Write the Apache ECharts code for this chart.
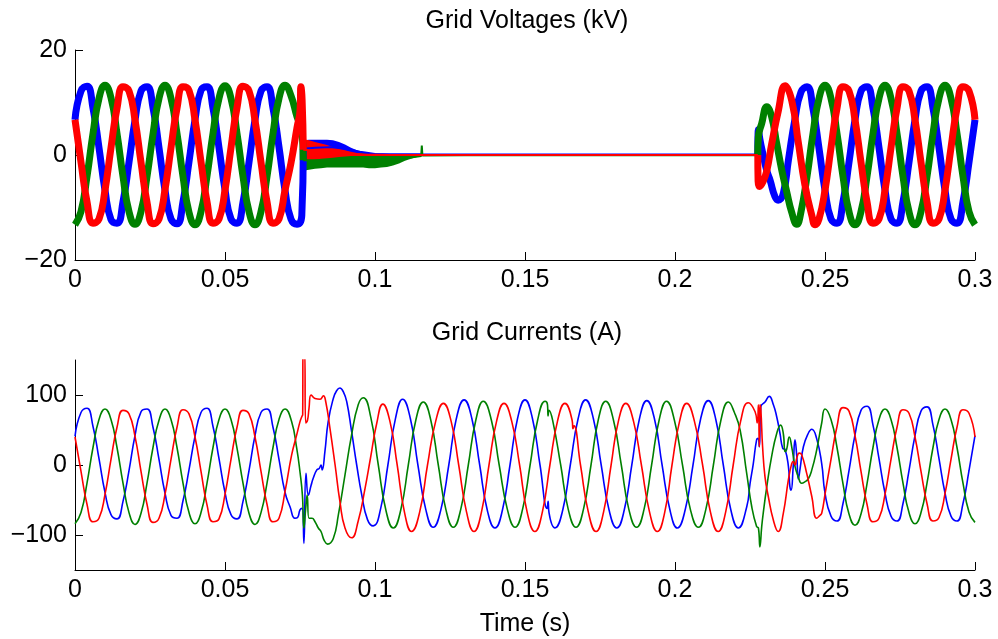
<!DOCTYPE html>
<html>
<head>
<meta charset="utf-8">
<title>Grid Voltages and Currents</title>
<script src="https://cdn.jsdelivr.net/npm/echarts@6/dist/echarts.min.js"></script>
<style>
  html, body { margin: 0; padding: 0; background: #fff; }
  #main { width: 998px; height: 639px; }
</style>
</head>
<body>
<div id="main"></div>
<script>
// sample times (s) for the steady parts before the fault and after recovery
const tPre = [0, 0.002, 0.004, 0.006, 0.008, 0.010, 0.012, 0.014, 0.016, 0.018,
  0.020, 0.022, 0.024, 0.026, 0.028, 0.030, 0.032, 0.034, 0.036, 0.038,
  0.040, 0.042, 0.044, 0.046, 0.048, 0.050, 0.052, 0.054, 0.056, 0.058,
  0.060, 0.062, 0.064, 0.066, 0.068, 0.070];
const tPost = [0.250, 0.252, 0.254, 0.256, 0.258, 0.260, 0.262, 0.264, 0.266, 0.268,
  0.270, 0.272, 0.274, 0.276, 0.278, 0.280, 0.282, 0.284, 0.286, 0.288,
  0.290, 0.292, 0.294, 0.296, 0.298, 0.300];

// ---- grid voltages (kV) ----
const vBluePre = [6.7, 12.2, 13.1, 8.9, 1.4, -6.7, -12.3, -13.0, -8.9, -1.4,
  6.6, 12.2, 13.0, 9.0, 1.4, -6.7, -12.2, -13.1, -8.9, -1.3,
  6.7, 12.3, 13.0, 8.9, 1.4, -6.6, -12.2, -13.0, -9.0, -1.4,
  6.7, 12.2, 13.0, 8.9, 1.5, -6.7];
const vGreenPre = [-13.3, -10.8, -4.1, 4.1, 10.8, 13.3, 10.9, 4.1, -4.1, -10.8,
  -13.2, -10.8, -4.1, 4.0, 10.8, 13.3, 10.8, 4.1, -4.1, -10.9,
  -13.3, -10.8, -4.0, 4.1, 10.8, 13.2, 10.8, 4.1, -4.1, -10.8,
  -13.3, -10.8, -4.1, 4.1, 10.8, 13.3];
const vRedPre = [6.7, -1.4, -8.9, -13.0, -12.2, -6.7, 1.4, 8.9, 13.0, 12.2,
  6.7, -1.4, -9.0, -13.1, -12.2, -6.6, 1.4, 8.9, 13.0, 12.3,
  6.7, -1.3, -8.9, -13.0, -12.2, -6.7, 1.4, 9.0, 13.1, 12.2,
  6.6, -1.4, -8.9, -13.0, -12.2, -6.7];

// collapse at the fault
const vBlueTrip = [[0.072, -12.2], [0.074, -13.2], [0.0756, -11.5], [0.0761, 1.2]];
const vGreenTrip = [[0.072, 11.3], [0.074, 7.3], [0.0756, 4.7], [0.0761, -1.0]];
const vRedTrip = [[0.072, -1.5], [0.074, 5.2], [0.075, 8.4], [0.0753, 13.0], [0.0757, 10.5], [0.0761, 1.0]];

// ripple envelopes during the fault
const tBand = [0.0761, 0.078, 0.080, 0.082, 0.084, 0.086, 0.088, 0.090, 0.092, 0.094,
  0.096, 0.098, 0.100, 0.102, 0.104, 0.106, 0.108, 0.110, 0.112, 0.114, 0.116];
const vBlueHi = [2.8, 2.9, 2.9, 2.9, 2.9, 2.8, 2.5, 2.0, 1.4, 0.9, 0.5, 0.3, 0.3, 0.3, 0.3, 0.3, 0.3, 0.3, 0.3, 0.3, 0.3];
const vBlueLo = [-0.6, -0.3, 0, 0.1, 0.2, 0.2, 0.2, 0.1, 0, 0, 0, 0, 0, 0, 0, 0, 0, 0, 0, 0, 0];
const vGreenHi = [0.9, 0.8, 0.7, 0.6, 0.6, 0.5, 0.5, 0.4, 0.4, 0.3, 0.3, 0.3, 0.3, 0.2, 0.2, 0.1, 0.1, 0.1, 0.1, 0.1, 0.1];
const vGreenLo = [-3.0, -2.8, -2.6, -2.5, -2.4, -2.4, -2.4, -2.4, -2.4, -2.4, -2.4, -2.5, -2.5, -2.4, -2.3, -2.0, -1.6, -1.1, -0.7, -0.4, -0.1];
const vRedHi = [3.0, 2.8, 2.5, 2.2, 1.9, 1.5, 1.2, 0.9, 0.6, 0.4, 0.3, 0.2, 0.2, 0.2, 0.2, 0.2, 0.2, 0.2, 0.2, 0.2, 0.2];
const vRedLo = [-1.3, -1.1, -0.9, -0.7, -0.6, -0.5, -0.4, -0.3, -0.2, -0.2, -0.2, -0.2, -0.2, -0.2, -0.2, -0.2, -0.2, -0.2, -0.2, -0.2, -0.2];

// near-zero voltage while the grid is lost
const tThin = [0.0761, 0.080, 0.085, 0.090, 0.095, 0.100, 0.105, 0.110, 0.1154, 0.1156,
  0.1158, 0.130, 0.150, 0.170, 0.190, 0.210, 0.2276];
const vBlueThin = [1.2, 1.4, 1.5, 1.2, 0.6, 0.2, 0.1, 0.1, 0.1, 0.1, 0.1, 0.1, 0.1, 0.1, 0.1, 0.1, 0.1];
const vGreenThin = [-1.0, -1.0, -1.0, -1.0, -1.0, -1.1, -1.1, -0.6, -0.2, 1.8, -0.1, -0.05, -0.05, -0.05, -0.05, -0.05, -0.05];
const vRedThin = [1.0, 0.8, 0.6, 0.2, 0.1, 0.05, 0, 0, 0, 0, 0, 0, 0, 0, 0, 0, 0];

// recovery
const vBlueRecov = [[0.2276, 0.1], [0.2278, 4.8], [0.2283, 3.0], [0.2290, 1.0], [0.2306, -3.0], [0.2317, -4.8],
  [0.2333, -7.9], [0.2344, -8.6], [0.2361, -7.3], [0.2378, -1.0], [0.2400, 6.9], [0.2420, 12.0],
  [0.2440, 13.0], [0.2460, 8.8], [0.2480, 1.3]];
const vGreenRecov = [[0.2276, 0], [0.2278, 3.5], [0.2289, 6.0], [0.2306, 9.2], [0.2322, 7.3], [0.2339, 2.2],
  [0.2356, -2.9], [0.2372, -6.9], [0.2389, -10.9], [0.2406, -13.2], [0.2420, -10.8], [0.2440, -4.1],
  [0.2460, 4.1], [0.2480, 10.8]];
const vRedRecov = [[0.2276, 0], [0.2277, -5.0], [0.2282, -6.0], [0.2294, -5.0], [0.2306, -3.0], [0.2322, 2.0],
  [0.2344, 8.3], [0.2367, 13.2], [0.2389, 10.4], [0.2411, 2.4], [0.2433, -5.7], [0.2456, -11.5],
  [0.2467, -13.3], [0.2480, -12.2]];

const vBluePost = [-6.7, -12.2, -13.0, -8.9, -1.4, 6.7, 12.2, 13.0, 8.9, 1.4, -6.7, -12.2, -13.0,
  -8.9, -1.4, 6.7, 12.2, 13.0, 8.9, 1.4, -6.7, -12.2, -13.0, -8.9, -1.4, 6.7];
const vGreenPost = [13.3, 10.8, 4.1, -4.1, -10.8, -13.3, -10.8, -4.1, 4.1, 10.8, 13.3, 10.8, 4.1,
  -4.1, -10.8, -13.3, -10.8, -4.1, 4.1, 10.8, 13.3, 10.8, 4.1, -4.1, -10.8, -13.3];
const vRedPost = [-6.7, 1.4, 8.9, 13.0, 12.2, 6.7, -1.4, -8.9, -13.0, -12.2, -6.7, 1.4, 8.9,
  13.0, 12.2, 6.7, -1.4, -8.9, -13.0, -12.2, -6.7, 1.4, 8.9, 13.0, 12.2, 6.7];

// ---- grid currents (A) ----
const iBluePre = [41, 75, 81, 55, 9, -39, -71, -77, -52, -8,
  42, 76, 80, 54, 8, -40, -72, -76, -51, -7,
  41, 75, 81, 55, 9, -39, -71, -77, -52, -8,
  42, 75, 80, 54, 8, -39];
const iGreenPre = [-84, -68, -26, 25, 65, 80, 65, 25, -26, -68,
  -85, -69, -26, 25, 64, 80, 65, 25, -26, -68,
  -84, -68, -26, 25, 65, 80, 65, 24, -26, -69,
  -85, -68, -26, 25, 65, 80];
const iRedPre = [40, -9, -56, -81, -76, -42, 8, 54, 78, 73,
  41, -9, -56, -82, -76, -42, 8, 54, 79, 73,
  40, -9, -57, -81, -77, -42, 8, 54, 78, 73,
  40, -9, -56, -81, -76, -38];

// fault, islanded operation and reconnection
const iBlueMid = [[0.0717, -60], [0.0733, -76], [0.0742, -75], [0.0750, -64], [0.0757, -62], [0.0763, -112],
  [0.0770, -12], [0.0778, -43], [0.0787, -29], [0.0794, -19], [0.0806, -7], [0.0814, -5], [0.0820, 0],
  [0.0824, -7], [0.0833, 19], [0.0844, 62], [0.0861, 95], [0.0872, 106], [0.0883, 110], [0.0895, 104],
  [0.0906, 90], [0.0922, 48], [0.0939, 0], [0.0956, -43], [0.0975, -78], [0.0994, -87],
  [0.1019, -62], [0.1043, 0], [0.1068, 66], [0.1092, 94], [0.1118, 66], [0.1143, 0], [0.1169, -63],
  [0.1194, -89], [0.1220, -63], [0.1246, 0], [0.1271, 66], [0.1297, 93], [0.1323, 66], [0.1349, 0],
  [0.1374, -64], [0.1400, -90], [0.1425, -64], [0.1450, 0], [0.1475, 66], [0.1500, 93], [0.1525, 66],
  [0.1550, 0], [0.1574, -62], [0.1577, -52], [0.1580, -68], [0.1600, -90], [0.1626, -64], [0.1651, 0],
  [0.1677, 66], [0.1702, 93], [0.1728, 66], [0.1754, 0], [0.1780, -64], [0.1806, -90], [0.1831, -64],
  [0.1856, 0], [0.1881, 65], [0.1906, 92], [0.1932, 65], [0.1957, 0], [0.1983, -64], [0.2008, -90],
  [0.2034, -64], [0.2060, 0], [0.2085, 65], [0.2111, 92], [0.2136, 65], [0.2161, 0], [0.2186, -64],
  [0.2211, -90], [0.2239, -60], [0.2250, -27], [0.2261, 2], [0.2272, 36], [0.2277, 38], [0.2281, 26],
  [0.2286, 83], [0.2300, 90], [0.2314, 98], [0.2328, 86], [0.2339, 69], [0.2350, 45], [0.2359, 24],
  [0.2367, 22], [0.2378, -2], [0.2383, -31], [0.2387, -36], [0.2394, -2], [0.2400, 36], [0.2406, 12],
  [0.2411, -20], [0.2417, -5], [0.2428, 26], [0.2444, 45], [0.2456, 51], [0.2472, 38], [0.2489, 2]];
const iGreenMid = [[0.0722, 62], [0.0739, 24], [0.0750, -10], [0.0758, -43], [0.0763, -90], [0.0769, -62],
  [0.0774, -43], [0.0780, -76], [0.0790, -76], [0.0800, -81], [0.0811, -90], [0.0820, -95], [0.0831, -108],
  [0.0842, -113], [0.0861, -105], [0.0878, -71], [0.0900, -14], [0.0922, 43], [0.0944, 86], [0.0961, 96],
  [0.0986, 68], [0.1011, 0], [0.1036, -64], [0.1061, -90], [0.1086, -64], [0.1111, 0], [0.1136, 64],
  [0.1161, 90], [0.1186, 64], [0.1211, 0], [0.1236, -63], [0.1261, -89], [0.1286, -63], [0.1311, 0],
  [0.1336, 64], [0.1361, 91], [0.1388, 64], [0.1414, 0], [0.1441, -63], [0.1467, -89], [0.1492, -63],
  [0.1517, 0], [0.1542, 64], [0.1567, 91], [0.1575, 86], [0.1577, 70], [0.1580, 78], [0.1593, 62],
  [0.1619, 0], [0.1644, -63], [0.1670, -89], [0.1695, -63], [0.1720, 0], [0.1744, 64], [0.1769, 91],
  [0.1795, 64], [0.1821, 0], [0.1846, -63], [0.1872, -89], [0.1897, -63], [0.1922, 0], [0.1947, 64],
  [0.1972, 91], [0.1998, 64], [0.2025, 0], [0.2051, -63], [0.2078, -89], [0.2103, -63], [0.2128, 0],
  [0.2153, 64], [0.2178, 90], [0.2198, 75], [0.2217, 50], [0.2239, -12], [0.2256, -60], [0.2272, -88],
  [0.2278, -90], [0.2283, -117], [0.2289, -88], [0.2294, -69], [0.2306, -31], [0.2322, 12], [0.2339, 45],
  [0.2352, 57], [0.2361, 45], [0.2367, 19], [0.2372, 22], [0.2381, 40], [0.2389, 26], [0.2400, -2],
  [0.2411, -17], [0.2422, -26], [0.2433, -24], [0.2444, -20], [0.2456, -7], [0.2472, 21], [0.2489, 60]];
const iRedMid = [[0.0722, 14], [0.0739, 43], [0.0750, 62], [0.0756, 69], [0.0759, 72], [0.0760, 165],
  [0.0765, 165], [0.0769, 60], [0.0775, 64], [0.0780, 81], [0.0787, 100], [0.0800, 95], [0.0817, 94],
  [0.0828, 99], [0.0836, 90], [0.0850, 52], [0.0867, 0], [0.0883, -52], [0.0900, -90], [0.0922, -104],
  [0.0944, -80], [0.0967, -33], [0.0985, 10], [0.1006, 60], [0.1026, 87], [0.1050, 62], [0.1074, 0],
  [0.1098, -67], [0.1122, -95], [0.1149, -67], [0.1175, 0], [0.1202, 62], [0.1228, 88], [0.1254, 62],
  [0.1279, 0], [0.1305, -67], [0.1330, -95], [0.1355, -67], [0.1380, 0], [0.1405, 62], [0.1430, 88],
  [0.1456, 62], [0.1482, 0], [0.1507, -67], [0.1533, -95], [0.1558, -67], [0.1583, 0], [0.1608, 62],
  [0.1633, 88], [0.1657, 64], [0.1660, 52], [0.1663, 56], [0.1685, 0], [0.1711, -67], [0.1737, -95],
  [0.1762, -67], [0.1787, 0], [0.1811, 62], [0.1836, 88], [0.1862, 62], [0.1888, 0], [0.1915, -67],
  [0.1941, -95], [0.1966, -67], [0.1990, 0], [0.2015, 62], [0.2039, 88], [0.2065, 62], [0.2092, 0],
  [0.2118, -67], [0.2144, -95], [0.2169, -67], [0.2194, 0], [0.2219, 63], [0.2244, 89], [0.2267, 76],
  [0.2274, 60], [0.2278, 86], [0.2281, 26], [0.2283, 86], [0.2286, 80], [0.2292, 26], [0.2300, -17],
  [0.2311, -45], [0.2328, -79], [0.2344, -95], [0.2361, -69], [0.2378, -21], [0.2389, 2], [0.2394, 5],
  [0.2400, 0], [0.2406, 10], [0.2414, 17], [0.2422, 15], [0.2439, -12], [0.2456, -45], [0.2472, -76],
  [0.2483, -72], [0.2489, -69]];

const iBluePost = [-40, -73, -80, -55, -8, 43, 78, 84, 57, 9, -40, -73, -80, -55, -8,
  42, 77, 83, 57, 9, -40, -73, -80, -55, -8, 42];
const iGreenPost = [80, 65, 25, -27, -70, -86, -70, -27, 25, 65, 80, 65, 25, -26, -68,
  -84, -68, -26, 25, 65, 80, 65, 25, -26, -67, -82];
const iRedPost = [-42, 8, 55, 82, 77, 42, -9, -56, -81, -76, -42, 8, 54, 79, 74,
  40, -9, -55, -80, -75, -41, 8, 54, 79, 74, 40];

const BLUE = '#0000ff', GREEN = '#008000', RED = '#ff0000';
const FONT = '"Liberation Sans", Arial, Helvetica, sans-serif';
const FS = 25;

const zip = (ts, vs) => ts.map((t, i) => [t, vs[i]]);

function line(g, data, color, width, smooth) {
  return {
    type: 'line', xAxisIndex: g, yAxisIndex: g, data: data,
    symbol: 'none', showSymbol: false, smooth: smooth,
    lineStyle: { color: color, width: width }, itemStyle: { color: color },
    silent: true, animation: false
  };
}

function band(hi, lo, color) {
  return {
    type: 'custom', coordinateSystem: 'cartesian2d', xAxisIndex: 0, yAxisIndex: 0,
    silent: true, animation: false,
    data: [[tBand[0], 0]],
    renderItem: function (params, api) {
      const pts = [];
      for (let i = 0; i < tBand.length; i++) pts.push(api.coord([tBand[i], hi[i]]));
      for (let i = tBand.length - 1; i >= 0; i--) pts.push(api.coord([tBand[i], lo[i]]));
      return { type: 'polygon', shape: { points: pts }, style: { fill: color } };
    }
  };
}

function phase(color, vPre, vTrip, hi, lo, vThin, vRecov, vPost, iPre, iMid, iPost) {
  return [
    line(0, zip(tPre, vPre).concat(vTrip), color, 7, 0.5),
    band(hi, lo, color),
    line(0, zip(tThin, vThin), color, 2, false),
    line(0, vRecov.concat(zip(tPost, vPost)), color, 7, 0.5),
    line(1, zip(tPre, iPre).concat(iMid, zip(tPost, iPost)), color, 1.6, 0.5)
  ];
}

const minus = v => (v < 0 ? '\u2212' + (-v) : String(v));
const tickFmt = v => String(parseFloat(v.toFixed(2)));

function xAxis(g) {
  return {
    type: 'value', gridIndex: g, min: 0, max: 0.3, interval: 0.05,
    axisLine: { onZero: false, lineStyle: { color: '#000', width: 1 } },
    axisTick: { inside: true, length: 8, lineStyle: { color: '#000' } },
    axisLabel: { margin: 8, fontSize: FS, fontFamily: FONT, color: '#000', formatter: tickFmt },
    splitLine: { show: false },
    name: g ? 'Time (s)' : '', nameLocation: 'middle', nameGap: 42,
    nameTextStyle: { fontSize: FS, fontFamily: FONT, color: '#000' }
  };
}

const chart = echarts.init(document.getElementById('main'), null, { renderer: 'canvas' });

chart.setOption({
  backgroundColor: '#fff',
  animation: false,
  grid: [
    { left: 75, right: 23, top: 50, height: 210 },
    { left: 75, right: 23, top: 360, height: 210 }
  ],
  xAxis: [xAxis(0), xAxis(1)],
  yAxis: [
    {
      type: 'value', gridIndex: 0, min: -20, max: 20, interval: 20,
      axisLine: { show: true, onZero: false, lineStyle: { color: '#000', width: 1 } },
      axisTick: { show: true, inside: true, length: 8, lineStyle: { color: '#000' } },
      axisLabel: { margin: 8, fontSize: FS, fontFamily: FONT, color: '#000', formatter: minus },
      splitLine: { show: false }
    },
    {
      type: 'value', gridIndex: 1, min: -150, max: 150,
      axisLine: { show: true, onZero: false, lineStyle: { color: '#000', width: 1 } },
      axisTick: { show: true, inside: true, length: 8, lineStyle: { color: '#000' }, customValues: [-100, 0, 100] },
      axisLabel: { margin: 8, fontSize: FS, fontFamily: FONT, color: '#000', formatter: minus, customValues: [-100, 0, 100] },
      splitLine: { show: false }
    }
  ],
  graphic: [
    {
      type: 'text', x: 527, y: 21, silent: true,
      style: { text: 'Grid Voltages (kV)', font: FS + 'px ' + FONT, fill: '#000',
        textAlign: 'center', textVerticalAlign: 'middle', align: 'center', verticalAlign: 'middle' }
    },
    {
      type: 'text', x: 527, y: 333, silent: true,
      style: { text: 'Grid Currents (A)', font: FS + 'px ' + FONT, fill: '#000',
        textAlign: 'center', textVerticalAlign: 'middle', align: 'center', verticalAlign: 'middle' }
    }
  ],
  series: [].concat(
    phase(BLUE, vBluePre, vBlueTrip, vBlueHi, vBlueLo, vBlueThin, vBlueRecov, vBluePost, iBluePre, iBlueMid, iBluePost),
    phase(GREEN, vGreenPre, vGreenTrip, vGreenHi, vGreenLo, vGreenThin, vGreenRecov, vGreenPost, iGreenPre, iGreenMid, iGreenPost),
    phase(RED, vRedPre, vRedTrip, vRedHi, vRedLo, vRedThin, vRedRecov, vRedPost, iRedPre, iRedMid, iRedPost)
  )
});
</script>
</body>
</html>
